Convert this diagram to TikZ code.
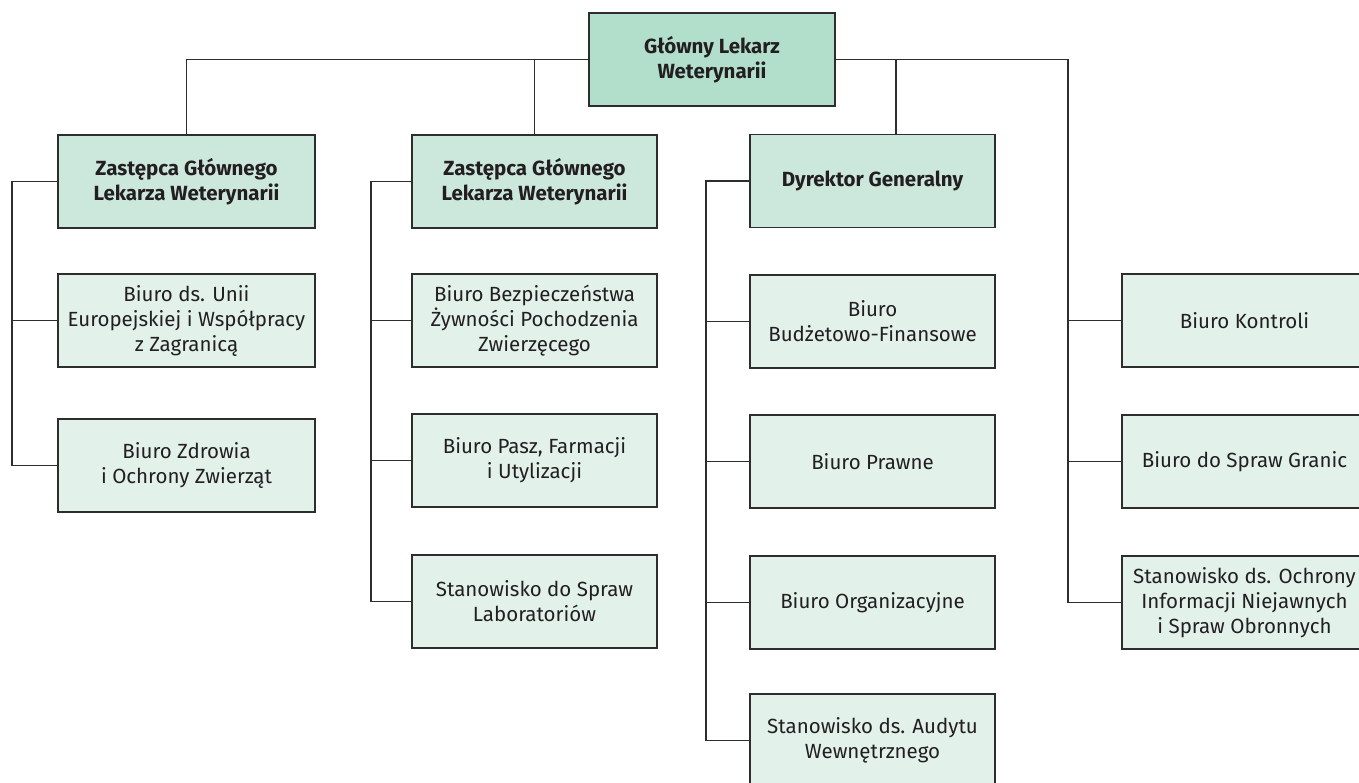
\documentclass[tikz,border=0pt]{standalone}
\usepackage{fontspec}
\setmainfont{Fira Sans}
\usetikzlibrary{calc}
\definecolor{topgreen}{RGB}{178,223,204}
\definecolor{headgreen}{RGB}{204,232,220}
\definecolor{leafgreen}{RGB}{226,241,234}
\definecolor{linegray}{RGB}{45,45,45}
\definecolor{textgray}{RGB}{35,31,32}

\tikzset{
  box/.style={draw=linegray, line width=1.6pt, inner sep=0pt, align=center,
    minimum width=245pt, minimum height=93pt, text=textgray,
    font=\fontsize{20.5}{25}\selectfont},
  topbox/.style={box, fill=topgreen, minimum width=246pt, font=\fontsize{20.5}{25}\selectfont\bfseries},
  headbox/.style={box, fill=headgreen, font=\fontsize{20.5}{25}\selectfont\bfseries},
  leafbox/.style={box, fill=leafgreen},
  wide/.style={minimum width=257pt},
  link/.style={draw=linegray, line width=1.6pt}
}

\begin{document}
\begin{tikzpicture}[x=1pt, y=-1pt]
\useasboundingbox (0,0) rectangle (1359,782);

% top
\node[topbox] (glw) at (712,59.5) {Główny Lekarz\\Weterynarii};

% first column
\node[headbox, wide] (h1) at (186.5,181.5) {Zastępca Głównego\\Lekarza Weterynarii};
\node[leafbox, wide] (l1a) at (186.5,320.5) {Biuro ds. Unii\\Europejskiej i Współpracy\\z Zagranicą};
\node[leafbox, wide] (l1b) at (186.5,465.5) {Biuro Zdrowia\\i Ochrony Zwierząt};

% second column
\node[headbox] (h2) at (534.5,181.5) {Zastępca Głównego\\Lekarza Weterynarii};
\node[leafbox] (l2a) at (534.5,320.5) {Biuro Bezpieczeństwa\\Żywności Pochodzenia\\Zwierzęcego};
\node[leafbox] (l2b) at (534.5,460.5) {Biuro Pasz, Farmacji\\i Utylizacji};
\node[leafbox] (l2c) at (534.5,601.5) {Stanowisko do Spraw\\Laboratoriów};

% third column
\node[headbox] (h3) at (872.5,181) {Dyrektor Generalny};
\node[leafbox] (l3a) at (872.5,321.5) {Biuro\\Budżetowo-Finansowe};
\node[leafbox] (l3b) at (872.5,461.5) {Biuro Prawne};
\node[leafbox] (l3c) at (872.5,602.5) {Biuro Organizacyjne};
\node[leafbox] (l3d) at (872.5,740.5) {Stanowisko ds. Audytu\\Wewnętrznego};

% right column
\node[leafbox] (r1) at (1244.5,320.5) {Biuro Kontroli};
\node[leafbox] (r2) at (1244.5,461.5) {Biuro do Spraw Granic};
\node[leafbox] (r3) at (1244.5,602.5) {Stanowisko ds. Ochrony\\Informacji Niejawnych\\i Spraw Obronnych};

% buses
\coordinate (bus1) at (12,0);
\coordinate (bus2) at (371,0);
\coordinate (bus3) at (706,0);
\coordinate (bus4) at (1068,0);
\coordinate (drop3) at (896,0);

% lines from the top
\draw[link] (glw.west) -| (h1.north);
\draw[link] (h2.north |- glw.west) -- (h2.north);
\draw[link] (drop3 |- glw.east) -- (drop3 |- h3.north);
\draw[link] (glw.east) -| (bus4 |- r3.west) -- (r3.west);
\foreach \n in {r1, r2}
\draw[link] (bus4 |- \n.west) -- (\n.west);

% lines in the columns
\draw[link] (h1.west) -| (bus1 |- l1b.west) -- (l1b.west);
\draw[link] (bus1 |- l1a.west) -- (l1a.west);

\draw[link] (h2.west) -| (bus2 |- l2c.west) -- (l2c.west);
\foreach \n in {l2a, l2b}
\draw[link] (bus2 |- \n.west) -- (\n.west);

\draw[link] (h3.west) -| (bus3 |- l3d.west) -- (l3d.west);
\foreach \n in {l3a, l3b, l3c}
\draw[link] (bus3 |- \n.west) -- (\n.west);
\end{tikzpicture}
\end{document}
